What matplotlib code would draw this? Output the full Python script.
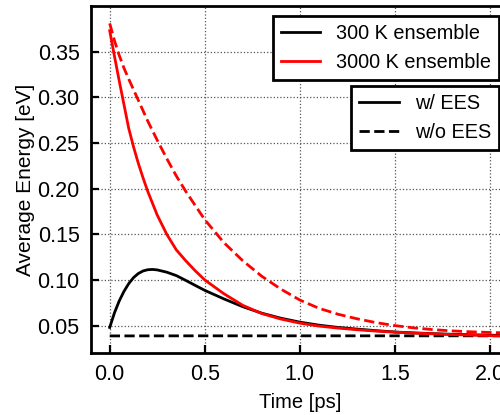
import matplotlib
matplotlib.use("Agg")
import matplotlib.pyplot as plt
from matplotlib.lines import Line2D

plt.rcParams['font.family'] = ['Liberation Sans', 'DejaVu Sans']
plt.rcParams['font.size'] = 14.3

# values
t_300_ees = [0, 0.025, 0.05, 0.075, 0.1, 0.125, 0.15, 0.175, 0.2, 0.225, 0.25, 0.3, 0.35,
             0.4, 0.45, 0.5, 0.6, 0.7, 0.8, 0.9, 1.0, 1.1, 1.2, 1.3, 1.4, 1.5, 1.6, 1.7,
             1.8, 1.9, 2.0, 2.1, 2.2]
e_300_ees = [0.048, 0.064, 0.077, 0.0875, 0.0960, 0.1025, 0.1070, 0.1098, 0.1112, 0.1115,
             0.1110, 0.1085, 0.1048, 0.0995, 0.0940, 0.0886, 0.0793, 0.0707, 0.0636, 0.0581,
             0.0538, 0.0505, 0.0480, 0.0462, 0.0445, 0.0430, 0.0420, 0.0412, 0.0405, 0.0400,
             0.0395, 0.0392, 0.0390]

t_300_noees = [0, 0.5, 1.0, 1.5, 2.0, 2.2]
e_300_noees = [0.0387, 0.0388, 0.0388, 0.0388, 0.0388, 0.0388]

t_3000_ees = [0, 0.025, 0.05, 0.075, 0.1, 0.125, 0.15, 0.175, 0.2, 0.25, 0.3, 0.35, 0.4,
              0.45, 0.5, 0.6, 0.7, 0.8, 0.9, 1.0, 1.1, 1.2, 1.3, 1.4, 1.5, 1.6, 1.7, 1.8,
              1.9, 2.0, 2.1, 2.2]
e_3000_ees = [0.373, 0.345, 0.318, 0.292, 0.266, 0.246, 0.228, 0.212, 0.197, 0.171, 0.150,
              0.133, 0.121, 0.110, 0.100, 0.085, 0.0722, 0.0632, 0.0572, 0.0527, 0.0495,
              0.0473, 0.0455, 0.0440, 0.0428, 0.0418, 0.0410, 0.0402, 0.0396, 0.0390,
              0.0387, 0.0385]

t_3000_noees = [0, 0.025, 0.05, 0.075, 0.1, 0.15, 0.2, 0.25, 0.3, 0.35, 0.4, 0.5, 0.6, 0.7,
                0.8, 0.9, 1.0, 1.1, 1.2, 1.3, 1.4, 1.5, 1.6, 1.7, 1.8, 1.9, 2.0, 2.1, 2.2]
e_3000_noees = [0.381, 0.362, 0.346, 0.332, 0.320, 0.297, 0.274, 0.253, 0.233, 0.214, 0.197,
                0.166, 0.141, 0.121, 0.104, 0.090, 0.078, 0.069, 0.0625, 0.0575, 0.0533,
                0.0500, 0.0475, 0.0456, 0.0442, 0.0432, 0.0425, 0.0420, 0.0416]

fig = plt.figure(figsize=(5.0, 4.15), dpi=100)
# the reference is cropped on the right, so the axes run past the figure edge
ax = fig.add_axes([0.1814, 0.1494, 0.8366, 0.8361])

ax.plot(t_300_ees, e_300_ees, color='black', lw=2)
ax.plot(t_300_noees, e_300_noees, color='black', lw=2, ls='--')
ax.plot(t_3000_ees, e_3000_ees, color='red', lw=2)
ax.plot(t_3000_noees, e_3000_noees, color='red', lw=2, ls='--')

ax.set_xlim(-0.1, 2.1)
ax.set_ylim(0.02, 0.4)
ax.set_xticks([0.0, 0.5, 1.0, 1.5, 2.0])
ax.set_xticklabels(['0.0', '0.5', '1.0', '1.5', '2.0'])
ax.set_yticks([0.05, 0.10, 0.15, 0.20, 0.25, 0.30, 0.35])
ax.set_yticklabels(['0.05', '0.10', '0.15', '0.20', '0.25', '0.30', '0.35'])
ax.tick_params(direction='in', length=6, width=1.6, pad=8, labelsize=15.5)
ax.grid(True, ls=':', color='#555555', lw=0.9)
for sp in ax.spines.values():
    sp.set_linewidth(2)

ax.set_xlabel('Time [ps]', fontsize=14.5, labelpad=6)
ax.set_ylabel('Average Energy [eV]', fontsize=15, labelpad=2)

h1 = [Line2D([], [], color='black', lw=2), Line2D([], [], color='red', lw=2)]
leg1 = ax.legend(h1, ['300 K ensemble', '3000 K ensemble'], loc='upper right',
                 fancybox=False, framealpha=1, edgecolor='black', borderaxespad=0.5)
leg1.get_frame().set_linewidth(2)
ax.add_artist(leg1)

h2 = [Line2D([], [], color='black', lw=2), Line2D([], [], color='black', lw=2, ls='--')]
leg2 = ax.legend(h2, ['w/ EES', 'w/o EES'], loc='upper right',
                 bbox_to_anchor=(0.976, 0.769), borderaxespad=0,
                 fancybox=False, framealpha=1, edgecolor='black')
leg2.get_frame().set_linewidth(2)

fig.savefig('out.png', dpi=100)
